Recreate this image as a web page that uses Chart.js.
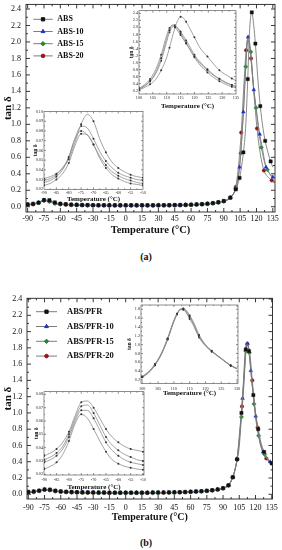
<!DOCTYPE html>
<html><head><meta charset="utf-8">
<script src="https://cdn.jsdelivr.net/npm/chart.js"></script>
<style>
html,body{margin:0;padding:0;background:#fff;}
body{width:282px;height:550px;position:relative;overflow:hidden;}
canvas{position:absolute;}
.cap{position:absolute;left:5px;width:282px;text-align:center;font-family:"Liberation Serif",serif;font-weight:bold;font-size:10px;color:#111;}
</style></head><body>
<canvas id="mainA" width="282" height="240" style="left:0;top:0;width:282px;height:240px"></canvas>
<canvas id="upA" width="113" height="108" style="left:127px;top:4px;width:113px;height:108px"></canvas>
<canvas id="lowA" width="117" height="98" style="left:30px;top:105px;width:117px;height:98px"></canvas>
<div class="cap" style="top:251px">(a)</div>
<canvas id="mainB" width="282" height="237" style="left:0;top:290px;width:282px;height:237px"></canvas>
<canvas id="upB" width="116" height="99" style="left:126px;top:299px;width:116px;height:99px"></canvas>
<canvas id="lowB" width="118" height="106" style="left:30px;top:386px;width:118px;height:106px"></canvas>
<div class="cap" style="top:537px">(b)</div>
<script>
// ---------- tick labels ----------
const xTicksMain = [-90,-75,-60,-45,-30,-15,0,15,30,45,60,75,90,105,120,135];
const yTicksMain = [0,0.2,0.4,0.6,0.8,1.0,1.2,1.4,1.6,1.8,2.0,2.2,2.4];
const xTicksHighA = [100,105,110,115,120,125,130,135];
const yTicksHighA = [0.2,0.4,0.6,0.8,1.0,1.2,1.4,1.6,1.8,2.0,2.2,2.4];
const xTicksHighB = [100,105,110,115,120,125,130];
const yTicksHighB = [0.2,0.4,0.6,0.8,1.0,1.2,1.4,1.6,1.8];
const xTicksLow = [-90,-85,-80,-75,-70,-65,-60,-55,-50];
const yTicksLowA = [0.02,0.03,0.04,0.05,0.06,0.07,0.08,0.09,0.10];
const yTicksLowB = [0.02,0.03,0.04,0.05,0.06,0.07,0.08];

// ---------- series names ----------
const namesA = ['ABS','ABS-10','ABS-15','ABS-20'];
const namesB = ['ABS/PFR','ABS/PFR-10','ABS/PFR-15','ABS/PFR-20'];

// ---------- main charts: common low-temperature grid ----------
const baseT = [-90,-85,-80,-75,-70,-65,-60,-55,-50,-45,-40,-35,-30,-25,-20,-15,-10,-5,0,5,10,15,20,25,30,35,40,45,50,55,60,65,70,75,80,85,90];

// panel (a) baseline
const absBase   = [0.030,0.036,0.050,0.082,0.080,0.052,0.038,0.031,0.027,0.024,0.022,0.021,0.020,0.019,0.019,0.018,0.018,0.018,0.018,0.018,0.018,0.018,0.018,0.018,0.019,0.019,0.020,0.021,0.022,0.024,0.026,0.029,0.033,0.038,0.045,0.055,0.070];
const abs10Base = [0.028,0.034,0.052,0.080,0.070,0.046,0.034,0.029,0.025,0.022,0.020,0.019,0.018,0.017,0.017,0.016,0.016,0.016,0.016,0.016,0.016,0.016,0.016,0.016,0.017,0.017,0.018,0.019,0.020,0.022,0.024,0.027,0.031,0.036,0.043,0.053,0.068];
const abs15Base = [0.026,0.032,0.051,0.077,0.066,0.043,0.032,0.027,0.024,0.021,0.019,0.018,0.017,0.016,0.016,0.015,0.015,0.015,0.015,0.015,0.015,0.015,0.015,0.015,0.016,0.016,0.017,0.018,0.019,0.021,0.023,0.026,0.030,0.035,0.042,0.052,0.067];
const abs20Base = [0.023,0.029,0.046,0.074,0.064,0.040,0.029,0.025,0.022,0.020,0.018,0.017,0.016,0.015,0.015,0.014,0.014,0.014,0.014,0.014,0.014,0.014,0.014,0.014,0.015,0.015,0.016,0.017,0.018,0.020,0.022,0.025,0.029,0.034,0.041,0.051,0.066];

// panel (a) glass-transition region
const absPeakT   = [93,96,99,101,103,104.5,106,108,110,112,113.5,115.7,117.5,119,121,123.5,126,128,130.5,133,135];
const absPeakV   = [0.085,0.11,0.16,0.21,0.28,0.35,0.46,0.66,0.95,1.55,2.10,2.36,2.20,1.98,1.60,1.22,0.95,0.80,0.66,0.55,0.48];
const abs10PeakT = [93,96,99,101,103,104.5,105.9,108,110.5,112.3,115,117.5,120.6,123,125.3,128.7,131,135];
const abs10PeakV = [0.08,0.11,0.16,0.22,0.33,0.48,0.72,1.15,1.78,2.06,1.78,1.42,1.10,0.88,0.72,0.48,0.42,0.36];
const abs15PeakT = [93,96,99,101,103,105.6,108,110.2,112,114.8,117,119.6,122,124.5,127,130,135];
const abs15PeakV = [0.08,0.11,0.16,0.22,0.33,0.65,1.15,1.70,2.07,1.88,1.50,1.20,0.92,0.72,0.56,0.45,0.34];
const abs20PeakT = [93,96,99,101,103.7,106,108.6,110.5,112.2,115,118,120.5,123.3,126.8,130,134];
const abs20PeakV = [0.08,0.11,0.16,0.24,0.52,0.90,1.51,1.90,2.02,1.80,1.32,0.95,0.66,0.44,0.37,0.32];

// panel (b) baseline
const pfrBase   = [0.030,0.035,0.045,0.060,0.058,0.045,0.037,0.032,0.029,0.027,0.025,0.024,0.023,0.022,0.022,0.021,0.021,0.021,0.021,0.021,0.021,0.021,0.021,0.022,0.022,0.023,0.024,0.025,0.027,0.029,0.032,0.035,0.039,0.044,0.051,0.061,0.076];
const pfr10Base = [0.028,0.033,0.044,0.058,0.055,0.042,0.034,0.030,0.027,0.025,0.023,0.022,0.021,0.020,0.020,0.019,0.019,0.019,0.019,0.019,0.019,0.019,0.019,0.020,0.020,0.021,0.022,0.023,0.025,0.027,0.030,0.033,0.037,0.042,0.049,0.059,0.074];
const pfr15Base = [0.026,0.031,0.042,0.056,0.053,0.040,0.032,0.028,0.025,0.023,0.021,0.020,0.019,0.018,0.018,0.018,0.018,0.018,0.018,0.018,0.018,0.018,0.018,0.019,0.019,0.020,0.021,0.022,0.024,0.026,0.029,0.032,0.036,0.041,0.048,0.058,0.073];
const pfr20Base = [0.022,0.027,0.040,0.054,0.050,0.036,0.029,0.026,0.023,0.021,0.020,0.019,0.018,0.017,0.017,0.017,0.017,0.017,0.017,0.017,0.017,0.017,0.017,0.018,0.018,0.019,0.020,0.021,0.023,0.025,0.028,0.031,0.035,0.040,0.047,0.057,0.072];

// panel (b) glass-transition region
const pfrPeakT   = [93,95,97,99,101,103,105,107,109.4,111,112.6,114,116,118,120,122.5,125,128,131,135];
const pfrPeakV   = [0.09,0.11,0.15,0.21,0.30,0.43,0.68,1.00,1.44,1.78,1.85,1.76,1.50,1.22,1.00,0.80,0.64,0.52,0.44,0.38];
const pfr10PeakT = [93,95,97,99,101,103,105.6,108,110.9,112.5,113.7,115.6,117.5,120.2,124.1,127,130,133.5,135];
const pfr10PeakV = [0.09,0.11,0.15,0.21,0.30,0.44,0.81,1.18,1.81,1.85,1.78,1.52,1.28,0.96,0.63,0.52,0.45,0.40,0.39];
const pfr15PeakT = [93,95,97,99,101,103,104.7,107,109.4,111,112.6,114.3,116.5,118.6,120.5,122.9,125.5,128.5,131.5,135];
const pfr15PeakV = [0.09,0.11,0.15,0.21,0.30,0.43,0.55,0.95,1.37,1.76,1.84,1.74,1.40,1.11,0.90,0.72,0.58,0.49,0.43,0.38];
const pfr20PeakT = [93,95,97,99,101,103,105,107.5,110,112.5,115.2,117,119.5,122,126.5,130,135];
const pfr20PeakV = [0.09,0.11,0.15,0.21,0.30,0.43,0.66,1.08,1.58,1.85,1.67,1.40,1.06,0.82,0.52,0.44,0.36];

// ---------- insets ----------
const lowT = [-90,-87.5,-85,-82.5,-80,-77.5,-75,-72.5,-70,-67.5,-65,-62.5,-60,-57.5,-55,-52.5,-50];
const absLow   = [0.031,0.033,0.036,0.042,0.051,0.068,0.087,0.097,0.090,0.072,0.058,0.048,0.042,0.038,0.035,0.033,0.032];
const abs10Low = [0.029,0.031,0.035,0.042,0.053,0.072,0.085,0.083,0.072,0.059,0.049,0.042,0.037,0.034,0.032,0.030,0.029];
const abs15Low = [0.027,0.029,0.033,0.040,0.053,0.072,0.080,0.076,0.066,0.054,0.045,0.038,0.034,0.031,0.029,0.027,0.026];
const abs20Low = [0.024,0.026,0.030,0.036,0.047,0.065,0.077,0.076,0.066,0.052,0.042,0.035,0.031,0.028,0.026,0.025,0.024];

const pfrLow   = [0.034,0.036,0.039,0.044,0.052,0.064,0.074,0.075,0.070,0.062,0.054,0.048,0.044,0.041,0.039,0.038,0.037];
const pfr10Low = [0.031,0.033,0.036,0.041,0.050,0.062,0.071,0.072,0.066,0.057,0.048,0.042,0.038,0.035,0.033,0.031,0.030];
const pfr15Low = [0.029,0.031,0.034,0.039,0.048,0.060,0.068,0.068,0.062,0.053,0.044,0.038,0.034,0.031,0.029,0.028,0.027];
const pfr20Low = [0.024,0.026,0.029,0.035,0.045,0.058,0.065,0.062,0.054,0.045,0.037,0.031,0.028,0.026,0.025,0.024,0.0235];

const highTA = [100,102,104,106,108,110,111,112,113,114,115,116,117,118,120,122,124.7,127,129,131,133.5,135];
const absHigh   = [0.22,0.29,0.38,0.52,0.78,1.15,1.42,1.72,2.00,2.20,2.30,2.27,2.16,2.02,1.72,1.42,1.17,0.95,0.78,0.67,0.55,0.48];
const abs10High = [0.25,0.34,0.48,0.72,1.12,1.68,1.92,2.07,2.06,1.98,1.88,1.76,1.63,1.50,1.22,1.02,0.81,0.65,0.54,0.45,0.36,0.32];
const abs15High = [0.27,0.37,0.53,0.80,1.22,1.78,1.98,2.05,2.00,1.90,1.78,1.66,1.54,1.42,1.17,0.98,0.78,0.63,0.53,0.44,0.36,0.32];
const abs20High = [0.24,0.33,0.46,0.68,1.05,1.60,1.86,2.01,2.03,1.96,1.84,1.70,1.56,1.42,1.15,0.93,0.72,0.57,0.47,0.39,0.31,0.28];

const highTB = [100,102,104,106,108,110,111,112,113,114,115,116,118,120,122,125,128,130];
const pfrHigh   = [0.28,0.39,0.56,0.80,1.14,1.55,1.70,1.80,1.82,1.77,1.66,1.54,1.22,1.00,0.86,0.69,0.53,0.46];
const pfr10High = [0.27,0.38,0.55,0.79,1.13,1.54,1.70,1.80,1.81,1.75,1.64,1.52,1.20,0.99,0.85,0.69,0.53,0.46];
const pfr15High = [0.27,0.37,0.54,0.78,1.12,1.53,1.69,1.79,1.80,1.73,1.61,1.49,1.18,0.98,0.85,0.68,0.53,0.46];
const pfr20High = [0.26,0.36,0.53,0.77,1.11,1.52,1.68,1.79,1.79,1.71,1.58,1.46,1.16,0.97,0.84,0.68,0.52,0.45];

// ---------- helpers ----------
const F = '"Liberation Serif","Times New Roman",serif';
const pts = (ts, vs) => ts.map((t, i) => ({x: t, y: vs[i]}));
const mids = a => a.slice(1).map((v, i) => (v + a[i]) / 2);
const colors = ['#111111', '#1c2fd0', '#1f8a2e', '#9a1414'];
const styles = ['rect', 'triangle', 'rectRot', 'circle'];
const radii = [2.3, 2.2, 2.2, 1.8];

const boxPlugin = {
  id: 'box',
  beforeDraw(chart, args, o) {
    if (!o.fill) return;
    const c = chart.chartArea, ctx = chart.ctx;
    ctx.save(); ctx.fillStyle = '#fff';
    ctx.fillRect(c.left, c.top, c.right - c.left, c.bottom - c.top);
    ctx.restore();
  },
  afterDatasetsDraw(chart, args, o) {
    const {ctx, chartArea: c, scales: {x, y}} = chart;
    ctx.save();
    ctx.strokeStyle = o.color; ctx.lineWidth = o.lw;
    ctx.strokeRect(c.left, c.top, c.right - c.left, c.bottom - c.top);
    ctx.beginPath();
    const tx = (vals, len) => vals.forEach(v => {
      const p = x.getPixelForValue(v);
      if (p < c.left + 0.5 || p > c.right - 0.5) return;
      ctx.moveTo(p, c.bottom); ctx.lineTo(p, c.bottom - len);
      ctx.moveTo(p, c.top); ctx.lineTo(p, c.top + len);
    });
    const ty = (vals, len) => vals.forEach(v => {
      const p = y.getPixelForValue(v);
      if (p < c.top + 0.5 || p > c.bottom - 0.5) return;
      ctx.moveTo(c.left, p); ctx.lineTo(c.left + len, p);
      ctx.moveTo(c.right, p); ctx.lineTo(c.right - len, p);
    });
    tx(o.xMajor, o.major); ty(o.yMajor, o.major);
    if (o.minor > 0) { tx(mids(o.xMajor), o.minor); ty(mids(o.yMajor), o.minor); }
    ctx.stroke();
    ctx.restore();
  }
};

const inLegend = {
  id: 'inLegend',
  afterDraw(chart, args, o) {
    if (!o.on) return;
    const ctx = chart.ctx;
    ctx.save();
    chart.data.datasets.forEach((ds, i) => {
      const y = o.y + i * o.dy;
      ctx.beginPath(); ctx.strokeStyle = ds.borderColor; ctx.lineWidth = 1;
      ctx.moveTo(o.x0, y); ctx.lineTo(o.x1, y); ctx.stroke();
      ctx.fillStyle = ds.pointBackgroundColor; ctx.strokeStyle = ds.pointBorderColor;
      if (Chart.helpers && Chart.helpers.drawPoint) {
        Chart.helpers.drawPoint(ctx, {pointStyle: ds.pointStyle, radius: radii[i], rotation: 0, borderWidth: 0.5}, o.xm, y);
      } else { ctx.beginPath(); ctx.arc(o.xm, y, 2, 0, 7); ctx.fill(); }
      ctx.fillStyle = '#111'; ctx.font = o.font; ctx.textBaseline = 'middle'; ctx.textAlign = 'left';
      ctx.fillText(ds.label, o.tx, y);
    });
    ctx.restore();
  }
};

function fixAxis(prop, val) {
  return s => { s[prop] = val; s.paddingTop = 0; s.paddingBottom = 0; s.paddingLeft = 0; s.paddingRight = 0; };
}

function mainConfig(names, series, o) {
  return {
    type: 'line',
    data: {datasets: series.map((d, i) => ({
      label: names[i], data: d,
      borderColor: '#7c7c7c', borderWidth: 0.9,
      pointStyle: styles[i],
      // in the transition region only every other measured point carries a symbol
      pointRadius: c => (c.raw && c.raw.x > 92 && c.dataIndex % 2) ? 0 : radii[i],
      pointBackgroundColor: colors[i], pointBorderColor: colors[i], pointBorderWidth: 0.4,
      cubicInterpolationMode: 'monotone', fill: false
    }))},
    options: {
      responsive: false, animation: false, events: [],
      layout: {padding: o.pad},
      plugins: {
        legend: {display: false}, tooltip: {enabled: false},
        box: {xMajor: xTicksMain, yMajor: yTicksMain, major: 4, minor: 2, color: '#222', lw: 0.9, fill: false},
        inLegend: Object.assign({on: true}, o.legend)
      },
      scales: {
        x: {
          type: 'linear', min: o.xmin, max: o.xmax,
          afterBuildTicks: s => { s.ticks = xTicksMain.map(v => ({value: v})); },
          afterFit: fixAxis('height', o.xh),
          grid: {display: false, drawTicks: false}, border: {display: false},
          ticks: {autoSkip: false, maxRotation: 0, padding: o.xtp, color: '#111', font: {family: F, size: 8}, callback: v => String(v)},
          title: {display: true, text: 'Temperature (°C)', color: '#111', font: {family: F, size: o.tfs, weight: 'bold'}, padding: {top: 0, bottom: o.xtitle}}
        },
        y: {
          type: 'linear', min: o.ymin, max: o.ymax,
          afterBuildTicks: s => { s.ticks = yTicksMain.map(v => ({value: v})); },
          afterFit: fixAxis('width', o.yw),
          grid: {display: false, drawTicks: false}, border: {display: false},
          ticks: {autoSkip: false, padding: o.ytp, color: '#111', font: {family: F, size: 8}, callback: v => v.toFixed(1)},
          title: {display: true, text: 'tan δ', color: '#111', font: {family: F, size: 11, weight: 'bold'}, padding: {top: o.ytitle, bottom: 0}}
        }
      }
    },
    plugins: [boxPlugin, inLegend]
  };
}

function insetConfig(series, o) {
  return {
    type: 'line',
    data: {datasets: series.map(d => ({
      data: d, borderColor: '#8c8c8c', borderWidth: 0.8,
      pointRadius: c => (c.dataIndex % 2 ? 0 : 1.0),
      pointBackgroundColor: '#333', pointBorderColor: '#333', pointBorderWidth: 0,
      cubicInterpolationMode: 'monotone', fill: false
    }))},
    options: {
      responsive: false, animation: false, events: [],
      layout: {padding: o.pad},
      plugins: {
        legend: {display: false}, tooltip: {enabled: false},
        box: {xMajor: o.xt, yMajor: o.yt, major: 2, minor: 1, color: '#444', lw: 0.6, fill: true},
        inLegend: {on: false}
      },
      scales: {
        x: {
          type: 'linear', min: o.xmin, max: o.xmax,
          afterBuildTicks: s => { s.ticks = o.xt.map(v => ({value: v})); },
          afterFit: fixAxis('height', o.xh),
          grid: {display: false, drawTicks: false}, border: {display: false},
          ticks: {autoSkip: false, maxRotation: 0, padding: o.xtp, color: '#222', font: {family: F, size: 4.2}, callback: v => String(v)},
          title: {display: true, text: 'Temperature (°C)', color: '#111', font: {family: F, size: 7, weight: 'bold'}, padding: {top: 0, bottom: o.xtitle}}
        },
        y: {
          type: 'linear', min: o.ymin, max: o.ymax,
          afterBuildTicks: s => { s.ticks = o.yt.map(v => ({value: v})); },
          afterFit: fixAxis('width', o.yw),
          grid: {display: false, drawTicks: false}, border: {display: false},
          ticks: {autoSkip: false, padding: 1, color: '#222', font: {family: F, size: 4.2}, callback: v => v.toFixed(o.dec)},
          title: {display: true, text: 'tan δ', color: '#111', font: {family: F, size: 5.5, weight: 'bold'}, padding: {top: o.ytitle, bottom: 0}}
        }
      }
    },
    plugins: [boxPlugin]
  };
}

// ---------- panel (a) ----------
new Chart(document.getElementById('mainA'), mainConfig(namesA, [
  pts(baseT, absBase).concat(pts(absPeakT, absPeakV)),
  pts(baseT, abs10Base).concat(pts(abs10PeakT, abs10PeakV)),
  pts(baseT, abs15Base).concat(pts(abs15PeakT, abs15PeakV)),
  pts(baseT, abs20Base).concat(pts(abs20PeakT, abs20PeakV))
], {
  pad: {left: 0, top: 2, right: 7, bottom: 0}, xh: 28, yw: 26,
  xmin: -91.5, xmax: 137, ymin: -0.064, ymax: 2.456,
  xtp: 2.5, ytp: 5, xtitle: 3.4, ytitle: 1.4, tfs: 10.5,
  legend: {x0: 33.3, x1: 52.7, xm: 43, tx: 57.3, y: 19.3, dy: 12.2, font: 'bold 8px ' + F}
}));

new Chart(document.getElementById('upA'), insetConfig([
  pts(highTA, absHigh), pts(highTA, abs10High), pts(highTA, abs15High), pts(highTA, abs20High)
], {
  pad: {left: 0, top: 6.7, right: 4, bottom: 0}, xh: 18, yw: 12,
  xmin: 100, xmax: 135, ymin: 0.106, ymax: 2.474, xt: xTicksHighA, yt: yTicksHighA, dec: 1,
  xtp: 1, xtitle: 1.2, ytitle: 1.1
}));

new Chart(document.getElementById('lowA'), insetConfig([
  pts(lowT, absLow), pts(lowT, abs10Low), pts(lowT, abs15Low), pts(lowT, abs20Low)
], {
  pad: {left: 0, top: 6.5, right: 3.7, bottom: 0}, xh: 13.7, yw: 14,
  xmin: -90, xmax: -50, ymin: 0.02, ymax: 0.1, xt: xTicksLow, yt: yTicksLowA, dec: 2,
  xtp: 1, xtitle: 0, ytitle: 1.9
}));

// ---------- panel (b) ----------
new Chart(document.getElementById('mainB'), mainConfig(namesB, [
  pts(baseT, pfrBase).concat(pts(pfrPeakT, pfrPeakV)),
  pts(baseT, pfr10Base).concat(pts(pfr10PeakT, pfr10PeakV)),
  pts(baseT, pfr15Base).concat(pts(pfr15PeakT, pfr15PeakV)),
  pts(baseT, pfr20Base).concat(pts(pfr20PeakT, pfr20PeakV))
], {
  pad: {left: 0, top: 8.3, right: 9.5, bottom: 0}, xh: 28, yw: 27,
  xmin: -91.2, xmax: 135.7, ymin: -0.058, ymax: 2.409,
  xtp: 3.9, ytp: 4.7, xtitle: 3.1, ytitle: 1.7, tfs: 10,
  legend: {x0: 36, x1: 57, xm: 46.5, tx: 67, y: 21.7, dy: 14.8, font: 'bold 8.5px ' + F}
}));

new Chart(document.getElementById('upB'), insetConfig([
  pts(highTB, pfrHigh), pts(highTB, pfr10High), pts(highTB, pfr15High), pts(highTB, pfr20High)
], {
  pad: {left: 0, top: 6, right: 3.7, bottom: 0}, xh: 14.7, yw: 15,
  xmin: 99.6, xmax: 130.3, ymin: 0.125, ymax: 1.897, xt: xTicksHighB, yt: yTicksHighB, dec: 1,
  xtp: 2.6, xtitle: 0.5, ytitle: 0.4
}));

new Chart(document.getElementById('lowB'), insetConfig([
  pts(lowT, pfrLow), pts(lowT, pfr10Low), pts(lowT, pfr15Low), pts(lowT, pfr20Low)
], {
  pad: {left: 0, top: 5.7, right: 3.7, bottom: 0}, xh: 17, yw: 14,
  xmin: -90.1, xmax: -49.6, ymin: 0.0195, ymax: 0.082, xt: xTicksLow, yt: yTicksLowB, dec: 2,
  xtp: 1.9, xtitle: 0.2, ytitle: 2.9
}));
</script>
</body></html>
